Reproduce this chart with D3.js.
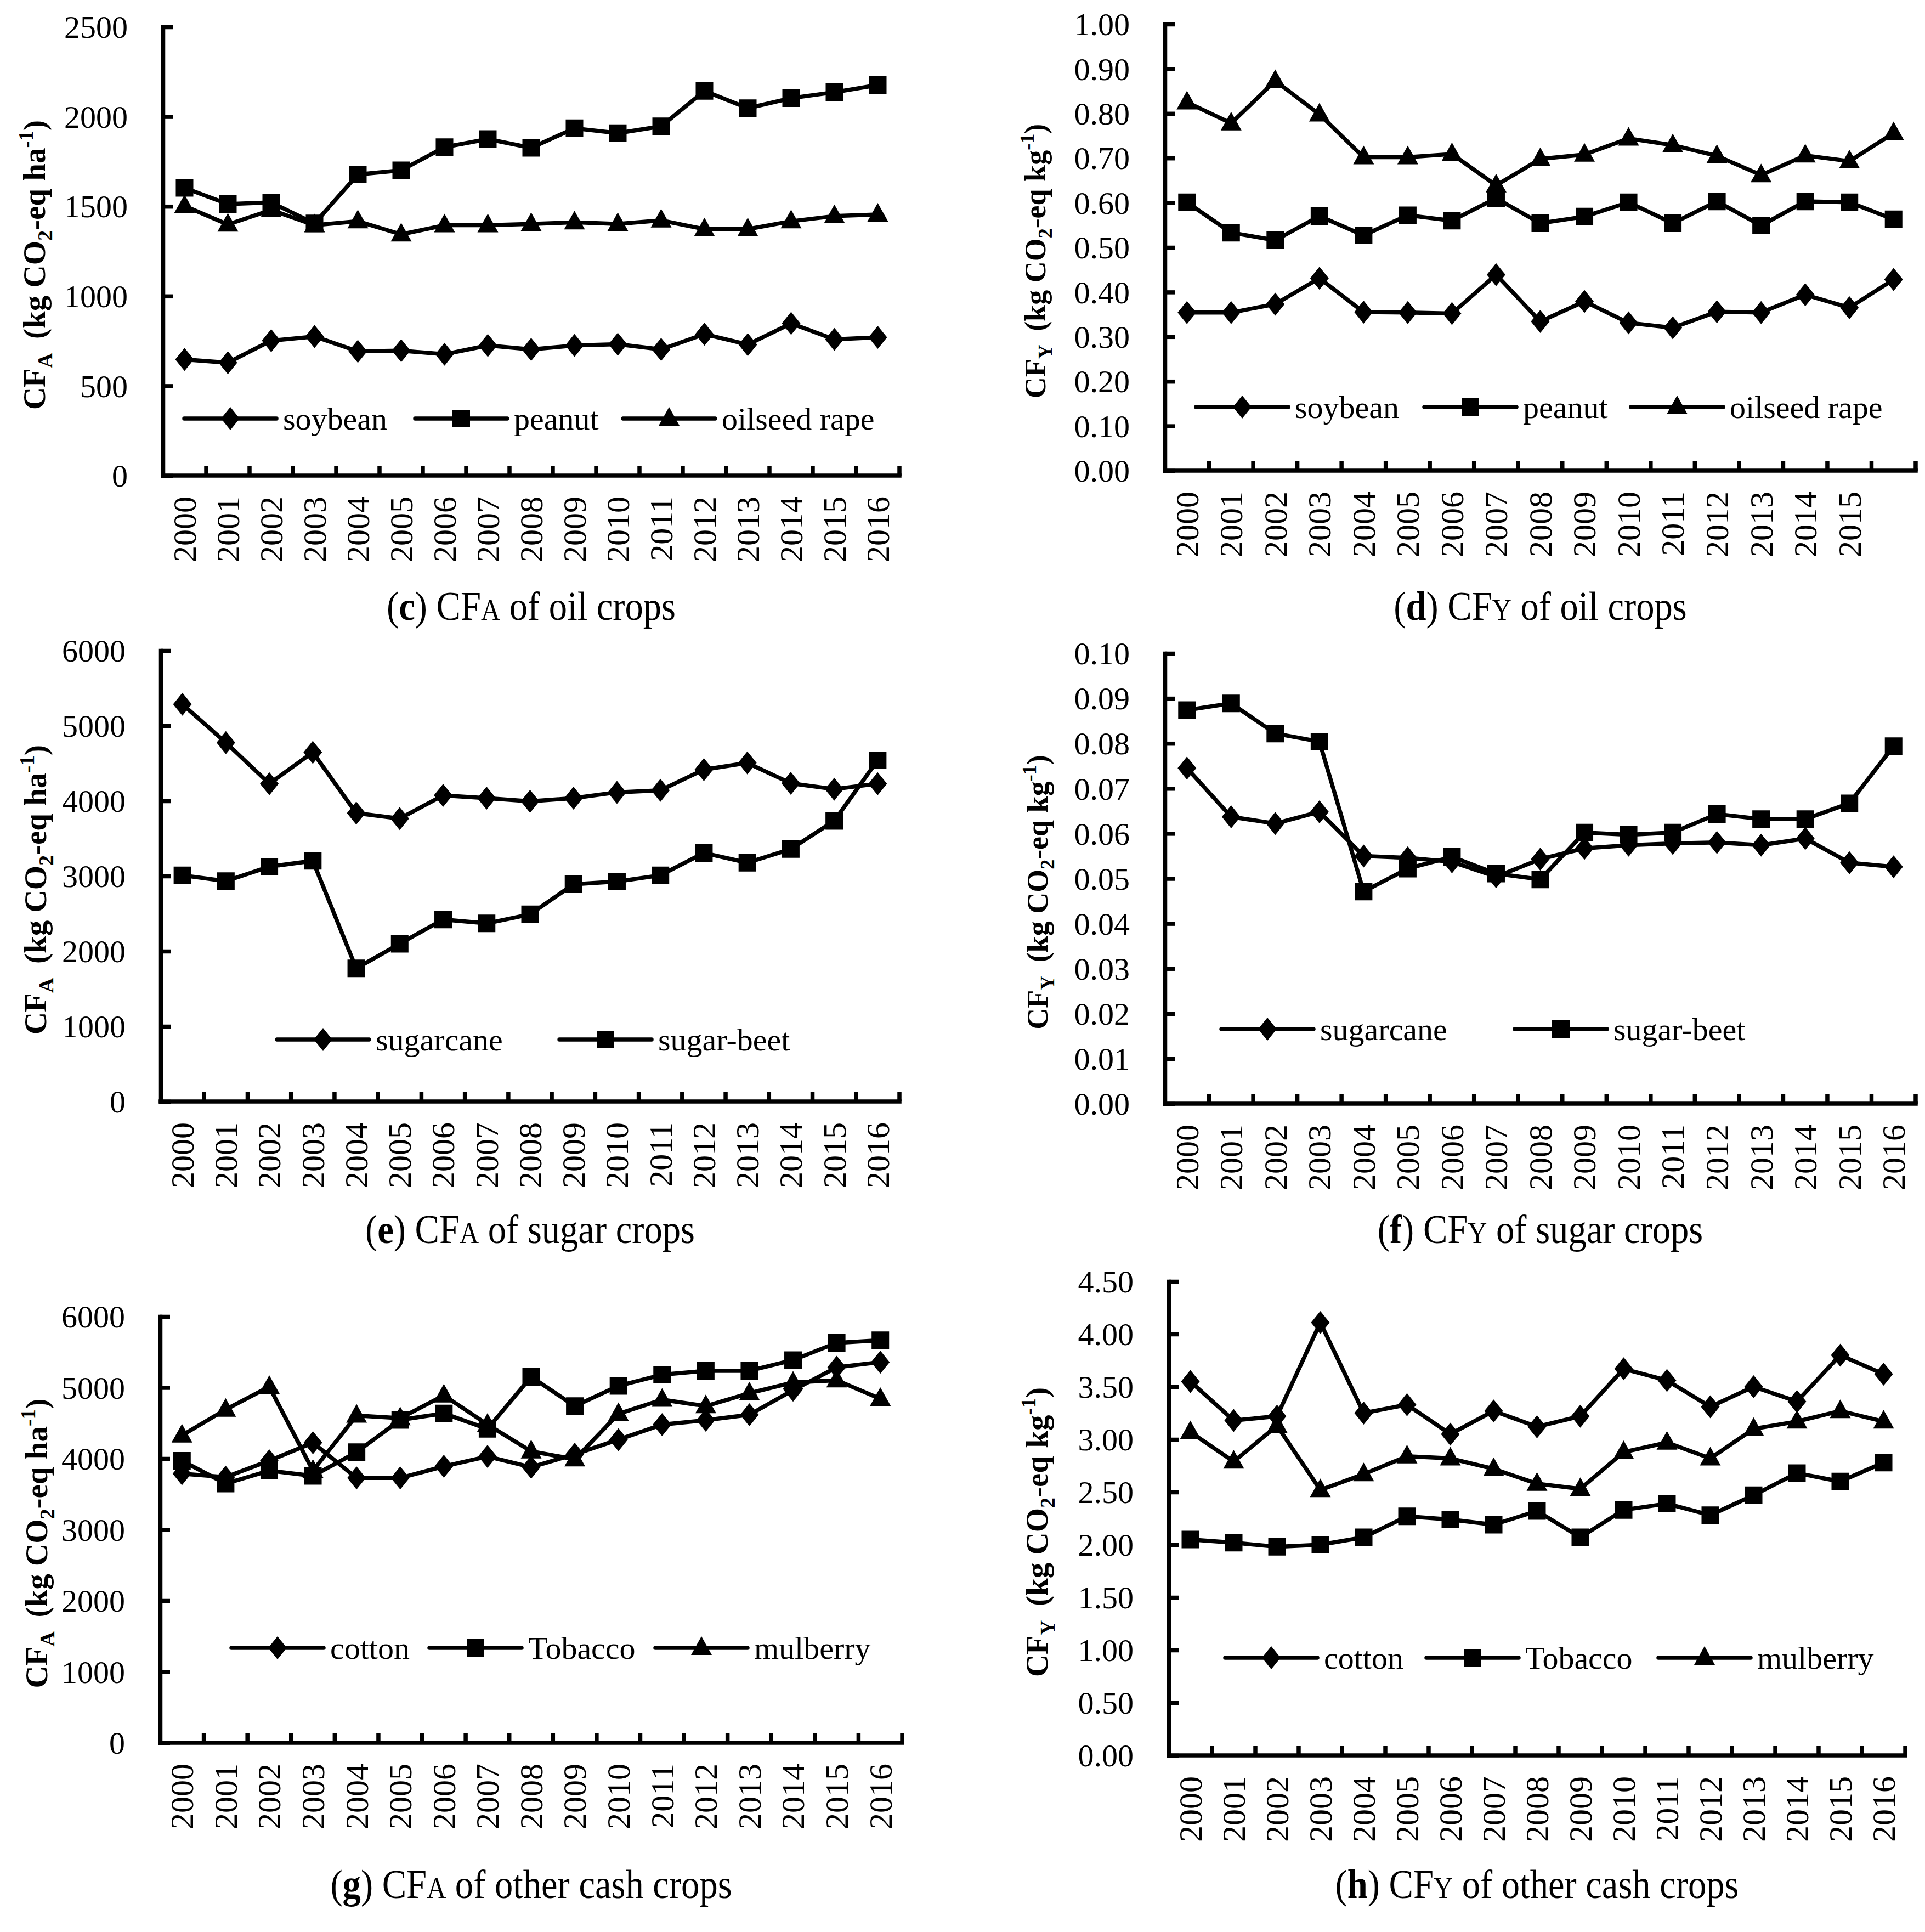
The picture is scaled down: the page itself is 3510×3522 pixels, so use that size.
<!DOCTYPE html>
<html><head><meta charset="utf-8">
<script src="https://cdn.jsdelivr.net/npm/d3@7"></script>
<style>body{margin:0;background:#fff}svg{display:block}</style>
</head><body>
<script>
// ---------- data ----------
const years = [2000,2001,2002,2003,2004,2005,2006,2007,2008,2009,2010,2011,2012,2013,2014,2015,2016];
const yearLabels = ["2000","2001","2002","2003","2004","2005","2006","2007","2008","2009","2010","2011","2012","2013","2014","2015","2016"];
const yearLabelsD = ["2000","2001","2002","2003","2004","2005","2006","2007","2008","2009","2010","2011","2012","2013","2014","2015",""];

const soybeanCFA = [647,629,752,775,692,696,676,725,703,725,732,703,788,730,848,759,770];
const peanutCFA  = [1603,1513,1522,1405,1678,1701,1830,1875,1826,1935,1908,1946,2143,2047,2103,2136,2176];
const rapeCFA    = [1502,1399,1480,1395,1417,1344,1395,1395,1402,1411,1402,1422,1373,1373,1417,1446,1455];

const soybeanCFY = [0.354,0.354,0.373,0.431,0.355,0.354,0.352,0.439,0.334,0.379,0.331,0.320,0.356,0.354,0.394,0.365,0.428];
const peanutCFY  = [0.601,0.533,0.516,0.570,0.527,0.572,0.560,0.610,0.554,0.569,0.601,0.554,0.603,0.549,0.603,0.601,0.563];
const rapeCFY    = [0.825,0.778,0.873,0.798,0.702,0.702,0.709,0.639,0.698,0.708,0.744,0.729,0.705,0.662,0.706,0.693,0.756];

const sugarcaneCFA = [5286,4776,4229,4646,3838,3765,4073,4036,3995,4036,4114,4140,4416,4505,4234,4156,4229];
const sugarbeetCFA = [3010,2932,3125,3203,1771,2099,2422,2370,2490,2890,2927,3010,3307,3177,3359,3734,4541];

const sugarcaneCFY = [0.0745,0.0637,0.0622,0.0648,0.0550,0.0546,0.0537,0.0504,0.0543,0.0567,0.0574,0.0578,0.0580,0.0574,0.0589,0.0535,0.0526];
const sugarbeetCFY = [0.0874,0.0889,0.0822,0.0804,0.0471,0.0522,0.0548,0.0511,0.0498,0.0602,0.0597,0.0602,0.0643,0.0632,0.0632,0.0667,0.0794];

const cottonCFA   = [3788,3739,3970,4224,3727,3727,3891,4030,3879,4061,4267,4479,4540,4618,4963,5285,5358];
const tobaccoCFA  = [3970,3648,3830,3757,4090,4545,4636,4418,5151,4739,5024,5181,5236,5236,5387,5630,5666];
const mulberryCFA = [4327,4690,5012,3830,4606,4569,4890,4479,4103,3990,4630,4830,4739,4921,5072,5103,4842];

const cottonCFY   = [3.55,3.18,3.22,4.11,3.25,3.33,3.05,3.27,3.12,3.22,3.67,3.56,3.31,3.50,3.36,3.80,3.62];
const tobaccoCFY  = [2.05,2.02,1.98,2.00,2.07,2.27,2.24,2.19,2.32,2.07,2.33,2.39,2.28,2.47,2.68,2.60,2.78];
const mulberryCFY = [3.07,2.79,3.13,2.52,2.67,2.84,2.82,2.72,2.58,2.53,2.88,2.97,2.82,3.10,3.17,3.27,3.17];

const ticksC = [0,500,1000,1500,2000,2500];
const ticksD = [0,0.1,0.2,0.3,0.4,0.5,0.6,0.7,0.8,0.9,1.0];
const ticksE = [0,1000,2000,3000,4000,5000,6000];
const ticksF = [0,0.01,0.02,0.03,0.04,0.05,0.06,0.07,0.08,0.09,0.10];
const ticksG = [0,1000,2000,3000,4000,5000,6000];
const ticksH = [0,0.5,1.0,1.5,2.0,2.5,3.0,3.5,4.0,4.5];

// ---------- drawing ----------
const W = 3510, H = 3522;
const FONT = '"Liberation Serif","Times New Roman",serif';
const svg = d3.select("body").append("svg")
  .attr("width", W).attr("height", H).attr("viewBox", `0 0 ${W} ${H}`)
  .style("font-family", FONT);
svg.append("rect").attr("width", W).attr("height", H).attr("fill", "#fff");

const markerPath = {
  diamond: "M0,-21L17,0L0,21L-17,0Z",
  square: "M-16,-16H16V16H-16Z",
  triangle: "M0,-21L19,13H-19Z"
};

const panels = [
  { box:[297,1640,49,867], max:2500, ticks:ticksC, fmt:d3.format("d"), labels:yearLabels,
    series:[{name:"soybean",v:soybeanCFA,m:"diamond"},{name:"peanut",v:peanutCFA,m:"square"},{name:"oilseed rape",v:rapeCFA,m:"triangle"}],
    legX:[336,757,1136], legY:763, tx:62, unit:"ha", sub:"A", tfs:57, letter:"c", cap:" of oil crops", capY:1130 },
  { box:[2124,3493,44,858], max:1.0, ticks:ticksD, fmt:d3.format(".2f"), labels:yearLabelsD,
    series:[{name:"soybean",v:soybeanCFY,m:"diamond"},{name:"peanut",v:peanutCFY,m:"square"},{name:"oilseed rape",v:rapeCFY,m:"triangle"}],
    legX:[2181,2597,2974], legY:742, tx:1886, unit:"kg", sub:"Y", tfs:54, letter:"d", cap:" of oil crops", capY:1130 },
  { box:[293,1640,1186,2008], max:6000, ticks:ticksE, fmt:d3.format("d"), labels:yearLabels,
    series:[{name:"sugarcane",v:sugarcaneCFA,m:"diamond"},{name:"sugar-beet",v:sugarbeetCFA,m:"square"}],
    legX:[505,1020], legY:1895, tx:64, unit:"ha", sub:"A", tfs:57, letter:"e", cap:" of sugar crops", capY:2266 },
  { box:[2124,3493,1191,2012], max:0.10, ticks:ticksF, fmt:d3.format(".2f"), labels:yearLabels,
    series:[{name:"sugarcane",v:sugarcaneCFY,m:"diamond"},{name:"sugar-beet",v:sugarbeetCFY,m:"square"}],
    legX:[2227,2762], legY:1876, tx:1890, unit:"kg", sub:"Y", tfs:54, letter:"f", cap:" of sugar crops", capY:2266 },
  { box:[292,1645,2400,3177], max:6000, ticks:ticksG, fmt:d3.format("d"), labels:yearLabels,
    series:[{name:"cotton",v:cottonCFA,m:"diamond"},{name:"Tobacco",v:tobaccoCFA,m:"square"},{name:"mulberry",v:mulberryCFA,m:"triangle"}],
    legX:[422,783,1195], legY:3004, tx:66, unit:"ha", sub:"A", tfs:57, letter:"g", cap:" of other cash crops", capY:3460 },
  { box:[2131,3474,2336,3200], max:4.5, ticks:ticksH, fmt:d3.format(".2f"), labels:yearLabels,
    series:[{name:"cotton",v:cottonCFY,m:"diamond"},{name:"Tobacco",v:tobaccoCFY,m:"square"},{name:"mulberry",v:mulberryCFY,m:"triangle"}],
    legX:[2234,2601,3024], legY:3022, tx:1890, unit:"kg", sub:"Y", tfs:57, letter:"h", cap:" of other cash crops", capY:3460 }
];

const SW = 7.5;

panels.forEach(p => {
  const [x0,x1,y0,y1] = p.box;
  const g = svg.append("g");
  const x = d3.scaleBand().domain(years).range([x0,x1]).padding(0);
  const y = d3.scaleLinear().domain([0,p.max]).range([y1,y0]);
  const cx = d => x(d) + x.bandwidth()/2;

  // y axis
  const ya = g.append("g").attr("transform",`translate(${x0},0)`)
    .call(d3.axisLeft(y).tickValues(p.ticks).tickFormat(p.fmt).tickSizeInner(-18).tickSizeOuter(0).tickPadding(64));
  ya.select(".domain").attr("stroke","#000").attr("stroke-width",SW).attr("stroke-linecap","square");
  ya.selectAll(".tick line").attr("stroke","#000").attr("stroke-width",SW);
  ya.selectAll(".tick text").attr("font-size",58).attr("font-family",FONT).attr("fill","#000").attr("dy","0.34em");

  // x axis (labels at band centres)
  const xa = g.append("g").attr("transform",`translate(0,${y1})`)
    .call(d3.axisBottom(x).tickSize(0).tickFormat((d,i)=>p.labels[i]));
  xa.select(".domain").remove();
  xa.selectAll(".tick text").attr("font-size",60).attr("font-family",FONT).attr("fill","#000")
    .attr("transform","rotate(-90)").attr("text-anchor","end").attr("x",-38).attr("y",0).attr("dy","0.34em");
  // x axis line and boundary ticks
  g.append("line").attr("x1",x0).attr("x2",x1).attr("y1",y1).attr("y2",y1)
    .attr("stroke","#000").attr("stroke-width",SW).attr("stroke-linecap","square");
  g.selectAll(".xb").data(years.slice(1).concat(["end"])).enter().append("line")
    .attr("x1",d=> d==="end" ? x1 : x(d)).attr("x2",d=> d==="end" ? x1 : x(d))
    .attr("y1",y1).attr("y2",y1-17).attr("stroke","#000").attr("stroke-width",SW);

  // series
  const line = d3.line().x((d,i)=>cx(years[i])).y(d=>y(d));
  p.series.forEach(s => {
    g.append("path").attr("d",line(s.v)).attr("fill","none").attr("stroke","#000")
      .attr("stroke-width",SW).attr("stroke-linejoin","round");
    g.selectAll(null).data(s.v).enter().append("path")
      .attr("d",markerPath[s.m]).attr("fill","#000")
      .attr("transform",(d,i)=>`translate(${cx(years[i])},${y(d)})`);
  });

  // legend
  p.series.forEach((s,i) => {
    const lx = p.legX[i], ly = p.legY;
    g.append("line").attr("x1",lx).attr("x2",lx+168).attr("y1",ly).attr("y2",ly)
      .attr("stroke","#000").attr("stroke-width",SW).attr("stroke-linecap","round");
    g.append("path").attr("d",markerPath[s.m]).attr("fill","#000").attr("transform",`translate(${lx+84},${ly})`);
    g.append("text").attr("x",lx+180).attr("y",ly).attr("dy","0.34em").attr("font-size",58).text(s.name);
  });

  // y title
  const tcy = (y0+y1)/2 + 25;
  const t = g.append("text").attr("transform",`translate(${p.tx+20},${tcy}) rotate(-90)`)
    .attr("text-anchor","middle").attr("font-weight","bold").attr("font-size",p.tfs);
  const fs = p.tfs, sfs = Math.round(fs*0.66);
  t.append("tspan").text("CF");
  t.append("tspan").attr("font-size",sfs).attr("dy",fs*0.22).text(p.sub);
  t.append("tspan").attr("dy",-fs*0.22).attr("dx",fs*0.2).text(" (kg CO");
  t.append("tspan").attr("font-size",sfs).attr("dy",fs*0.22).text("2");
  t.append("tspan").attr("dy",-fs*0.22).text("-eq " + p.unit);
  t.append("tspan").attr("font-size",sfs).attr("dy",-fs*0.38).text("-1");
  t.append("tspan").attr("dy",fs*0.38).text(")");

  // caption (slightly condensed, taller glyphs as in the reference)
  const c = g.append("text").attr("transform",`translate(${(x0+x1)/2},${p.capY}) scale(0.9,1)`)
    .attr("text-anchor","middle").attr("font-size",74);
  c.append("tspan").text("(");
  c.append("tspan").attr("font-weight","bold").text(p.letter);
  c.append("tspan").text(") CF");
  c.append("tspan").attr("font-size",54).text(p.sub);
  c.append("tspan").text(p.cap);
});
</script>
</body></html>
